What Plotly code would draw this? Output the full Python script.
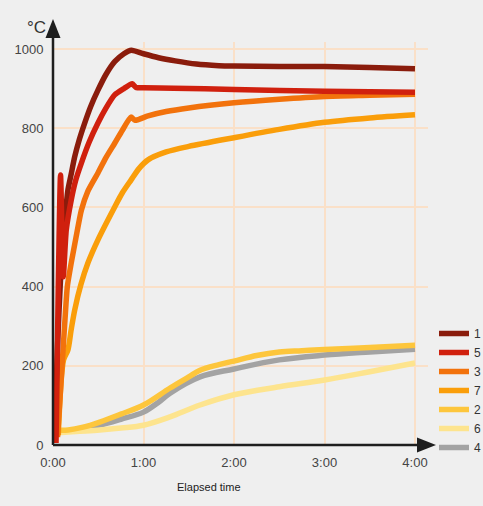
import plotly.graph_objects as go

# ---- data (time in minutes, temperature in °C) ----
t1 = [1, 3, 5, 7.7, 9.9, 12, 14.4, 17.5, 21, 25, 29.8, 35, 40.9, 47, 52, 60, 70, 81, 95, 110, 120, 150, 180, 210, 240]
v1 = [30, 250, 420, 560, 644, 683, 728, 772, 813, 855, 896, 935, 968, 988, 997, 988, 978, 970, 962, 958, 957, 956, 956, 953, 950]

t5 = [2, 3.5, 5, 6.8, 8.8, 12.1, 15, 18.8, 24, 29.8, 35, 40.9, 47, 52.5, 55, 60, 80, 120, 180, 240]
v5 = [5, 400, 682, 425, 543, 619, 668, 712, 765, 813, 850, 884, 900, 912, 903, 902, 901, 898, 893, 891]

t3 = [3, 6.5, 8, 9.5, 12.1, 15.3, 18.8, 23, 29.8, 35, 40.9, 46, 51.7, 54.4, 63, 75, 90, 120, 150, 180, 210, 240]
v3 = [20, 230, 320, 400, 460, 525, 593, 640, 687, 725, 762, 795, 828, 820, 831, 842, 851, 864, 873, 880, 883, 886]

t7 = [3.5, 7, 9.9, 12, 14.4, 18.5, 23.2, 29.8, 40.9, 46, 51.7, 57, 63, 75, 90, 120, 150, 180, 210, 240]
v7 = [25, 215, 240, 290, 341, 405, 460, 518, 601, 637, 669, 698, 720, 740, 754, 776, 797, 815, 826, 834]

t2 = [1, 10, 20, 31, 45, 60, 77.6, 90, 97.5, 110, 120, 135, 150, 165, 180, 210, 240]
v2 = [38, 38, 45, 58, 78, 101, 144, 172, 189, 203, 212, 226, 235, 238, 241, 246, 252]

t6 = [1, 15, 31, 45, 60, 77.6, 97.5, 120, 150, 180, 210, 240]
v6 = [30, 34, 38, 43, 50, 71, 101, 127, 147, 164, 185, 207]

t4 = [1, 15, 31, 45, 60, 70, 77.6, 97.5, 120, 150, 180, 210, 240]
v4 = [33, 38, 50, 65, 83, 108, 131, 172, 192, 215, 227, 235, 242]

x_tickvals = [0, 60, 120, 180, 240]
x_ticktext = ["0:00", "1:00", "2:00", "3:00", "4:00"]
y_tickvals = [0, 200, 400, 600, 800, 1000]

# draw order (bottom -> top) with legend rank
series = [
    ("4", t4, v4, "#a3a3a3", 7, 1.0),
    ("6", t6, v6, "#fde48e", 6, 1.0),
    ("2", t2, v2, "#fdc63c", 5, 1.0),
    ("7", t7, v7, "#fa9e0a", 4, 0.8),
    ("3", t3, v3, "#f2720c", 3, 0.6),
    ("1", t1, v1, "#8a1c0c", 1, 0.6),
    ("5", t5, v5, "#d0200e", 2, 0.6),
]

fig = go.Figure()
for name, tx, vy, col, rank, sm in series:
    fig.add_trace(go.Scatter(
        x=tx, y=vy, name=name, mode="lines",
        line=dict(color=col, width=5.5, shape="spline", smoothing=sm),
        legendrank=rank,
    ))

W, H = 483, 506
L, R, T, B = 53, 55, 42, 61
pw, ph = W - L - R, H - T - B

def px(xp):
    return (xp - L) / pw

def py(yp):
    return (H - B - yp) / ph

axis_col = "#1e1e1e"
shapes = [
    dict(type="line", xref="paper", yref="paper", x0=0, y0=0, x1=0, y1=py(36),
         line=dict(color=axis_col, width=2.5), layer="above"),
    dict(type="path", xref="paper", yref="paper",
         path=f"M {px(53)} {py(19)} L {px(45.5)} {py(38)} L {px(60.5)} {py(38)} Z",
         fillcolor=axis_col, line=dict(width=0), layer="above"),
    dict(type="line", xref="paper", yref="paper", x0=0, y0=0, x1=px(420), y1=0,
         line=dict(color=axis_col, width=2.5), layer="above"),
    dict(type="path", xref="paper", yref="paper",
         path=f"M {px(436)} {py(445)} L {px(417)} {py(437.5)} L {px(417)} {py(452.5)} Z",
         fillcolor=axis_col, line=dict(width=0), layer="above"),
]

fig.update_layout(
    width=W, height=H,
    margin=dict(l=L, r=R, t=T, b=B, pad=0, autoexpand=False),
    paper_bgcolor="#efefef", plot_bgcolor="#efefef",
    font=dict(family="Liberation Sans, Arial, sans-serif", color="#444", size=13),
    shapes=shapes,
    showlegend=True,
    legend=dict(x=px(434), y=py(319), xanchor="left", yanchor="top",
                bgcolor="rgba(0,0,0,0)", font=dict(size=12, color="#333"),
                itemwidth=30, tracegroupgap=0),
    annotations=[
        dict(text="°C", xref="paper", yref="paper", x=px(25), y=py(16),
             showarrow=False, font=dict(size=17, color="#333")),
        dict(text="Elapsed time", xref="paper", yref="paper", x=px(209), y=py(495),
             showarrow=False, font=dict(size=11, color="#222")),
    ],
)

fig.update_xaxes(
    range=[0, 240 * (pw / (415 - 53))],
    tickvals=x_tickvals, ticktext=x_ticktext,
    showgrid=True, gridcolor="#fae0c8", gridwidth=1.5,
    zeroline=False, showline=False,
    ticks="outside", ticklen=5, tickcolor="rgba(0,0,0,0)",
    tickfont=dict(size=13, color="#444"),
)
fig.update_yaxes(
    range=[0, 1000 * ph / (445 - 49)],
    tickvals=y_tickvals,
    showgrid=True, gridcolor="#fae0c8", gridwidth=1.5,
    zeroline=False, showline=False,
    ticks="outside", ticklen=6, tickcolor="rgba(0,0,0,0)",
    tickfont=dict(size=13, color="#444"),
)

fig.write_html(
    "out.html",
    config={"displayModeBar": False},
    post_script="document.body.style.margin='0';document.body.style.background='#efefef';",
)
